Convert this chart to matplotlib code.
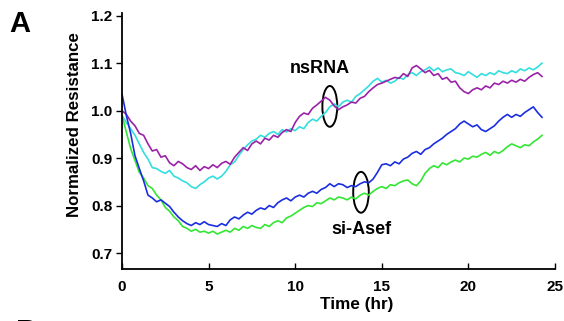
import numpy as np
import matplotlib
matplotlib.use("Agg")
import matplotlib.pyplot as plt
from matplotlib.patches import Ellipse

plt.rcParams['font.family'] = ['Liberation Sans', 'DejaVu Sans']

TIME_STEP = 0.25  # hours between samples

ns_magenta = [
    1.000, 0.992, 0.978, 0.968, 0.952, 0.948, 0.930, 0.915, 0.918, 0.902,
    0.905, 0.890, 0.884, 0.893, 0.888, 0.880, 0.876, 0.884, 0.874, 0.882,
    0.878, 0.886, 0.880, 0.889, 0.893, 0.887, 0.902, 0.912, 0.922, 0.916,
    0.930, 0.936, 0.930, 0.942, 0.938, 0.948, 0.944, 0.954, 0.960, 0.956,
    0.975, 0.988, 0.995, 0.992, 1.005, 1.012, 1.020, 1.028, 1.022, 1.010,
    1.002, 1.008, 1.012, 1.018, 1.016, 1.026, 1.030, 1.040, 1.048, 1.055,
    1.058, 1.062, 1.066, 1.070, 1.068, 1.078, 1.072, 1.090, 1.095, 1.088,
    1.080, 1.085, 1.074, 1.078, 1.066, 1.070, 1.060, 1.062, 1.048, 1.040,
    1.036, 1.044, 1.048, 1.044, 1.052, 1.048, 1.058, 1.055, 1.062, 1.058,
    1.064, 1.060, 1.066, 1.062, 1.070, 1.076, 1.080, 1.072,
]

ns_cyan = [
    0.990, 0.975, 0.962, 0.948, 0.930, 0.912, 0.898, 0.880, 0.878, 0.872,
    0.868, 0.874, 0.862, 0.858, 0.852, 0.848, 0.840, 0.836, 0.844, 0.850,
    0.858, 0.862, 0.856, 0.862, 0.872, 0.886, 0.892, 0.906, 0.918, 0.928,
    0.936, 0.940, 0.948, 0.944, 0.952, 0.956, 0.950, 0.960, 0.955, 0.962,
    0.958, 0.966, 0.962, 0.975, 0.982, 0.978, 0.988, 0.996, 1.008, 1.014,
    1.008, 1.018, 1.022, 1.018, 1.030, 1.036, 1.044, 1.052, 1.062, 1.068,
    1.060, 1.064, 1.058, 1.062, 1.070, 1.066, 1.076, 1.080, 1.074, 1.082,
    1.086, 1.092, 1.084, 1.090, 1.082, 1.086, 1.088, 1.080, 1.078, 1.074,
    1.082, 1.076, 1.070, 1.078, 1.074, 1.080, 1.076, 1.084, 1.080, 1.078,
    1.084, 1.080, 1.088, 1.084, 1.090, 1.086, 1.092, 1.100,
]

si_blue = [
    1.035, 0.990, 0.952, 0.905, 0.878, 0.852, 0.822, 0.816, 0.808, 0.812,
    0.805, 0.798, 0.786, 0.776, 0.768, 0.762, 0.758, 0.764, 0.760, 0.766,
    0.760, 0.758, 0.756, 0.762, 0.758, 0.770, 0.776, 0.772, 0.780, 0.786,
    0.782, 0.790, 0.795, 0.792, 0.800, 0.796, 0.806, 0.812, 0.816, 0.810,
    0.818, 0.822, 0.818, 0.826, 0.830, 0.826, 0.834, 0.838, 0.846, 0.840,
    0.846, 0.844, 0.838, 0.842, 0.840, 0.846, 0.850, 0.848, 0.856, 0.870,
    0.886, 0.888, 0.884, 0.892, 0.888, 0.898, 0.902, 0.910, 0.914, 0.908,
    0.918, 0.922, 0.930, 0.936, 0.942, 0.950, 0.956, 0.962, 0.972, 0.978,
    0.972, 0.966, 0.970, 0.960, 0.956, 0.962, 0.968, 0.978, 0.986, 0.992,
    0.986, 0.992, 0.988, 0.996, 1.002, 1.008, 0.996, 0.986,
]

si_green = [
    0.990, 0.955, 0.920, 0.895, 0.870, 0.858, 0.842, 0.836, 0.822, 0.812,
    0.796, 0.788, 0.776, 0.768, 0.756, 0.752, 0.746, 0.750, 0.744, 0.746,
    0.742, 0.746, 0.740, 0.744, 0.748, 0.744, 0.752, 0.748, 0.756, 0.752,
    0.758, 0.754, 0.752, 0.760, 0.756, 0.764, 0.768, 0.764, 0.774, 0.778,
    0.784, 0.790, 0.796, 0.800, 0.798, 0.806, 0.804, 0.810, 0.816, 0.812,
    0.818, 0.816, 0.812, 0.818, 0.814, 0.822, 0.826, 0.822, 0.830, 0.836,
    0.840, 0.836, 0.844, 0.842, 0.848, 0.852, 0.854, 0.846, 0.842, 0.852,
    0.868, 0.878, 0.884, 0.880, 0.890, 0.886, 0.892, 0.896, 0.892, 0.900,
    0.898, 0.904, 0.902, 0.908, 0.912, 0.906, 0.914, 0.910, 0.916, 0.924,
    0.930, 0.926, 0.922, 0.928, 0.926, 0.934, 0.940, 0.948,
]

x_ticks = [0, 5, 10, 15, 20, 25]
y_ticks = [0.7, 0.8, 0.9, 1.0, 1.1, 1.2]
y_tick_labels = ["0.7", "0.8", "0.9", "1.0", "1.1", "1.2"]

fig = plt.figure(figsize=(5.64, 3.21), dpi=100)
ax = fig.add_axes([0.2163, 0.162, 0.7677, 0.7975])

series = [
    (ns_cyan, "#33dede"),
    (ns_magenta, "#9a22a8"),
    (si_green, "#33e633"),
    (si_blue, "#1a2ee0"),
]
for vals, col in series:
    t = np.arange(len(vals)) * TIME_STEP
    ax.plot(t, vals, color=col, lw=1.2)

ax.set_xlim(0, 25)
ax.set_ylim(0.6664, 1.2057)
ax.set_xticks(x_ticks)
ax.set_xticklabels([str(v) for v in x_ticks])
ax.set_yticks(y_ticks)
ax.set_yticklabels(y_tick_labels)
for s in ["top", "right"]:
    ax.spines[s].set_visible(False)
for s in ["left", "bottom"]:
    ax.spines[s].set_linewidth(1.3)
ax.tick_params(axis='x', direction='in', length=4, width=1, pad=8,
               labelsize=11)
ax.tick_params(axis='y', direction='out', length=4, width=1, pad=3,
               labelsize=11)
for lab in ax.get_xticklabels() + ax.get_yticklabels():
    lab.set_fontweight('bold')

ax.set_xlabel("Time (hr)", fontsize=12.3, fontweight='bold')
ax.set_ylabel("Normalized Resistance", fontsize=12.2, fontweight='bold')
ax.xaxis.set_label_coords(0.543, -0.11)
ax.yaxis.set_label_coords(-0.093, 0.566)

ax.text(11.4, 1.089, "nsRNA", fontsize=13, fontweight='bold',
        ha='center', va='center')
ax.text(13.8, 0.750, "si-Asef", fontsize=13, fontweight='bold',
        ha='center', va='center')
ax.add_patch(Ellipse((12.0, 1.009), 0.86, 0.086, fill=False,
                     ec='black', lw=1.4))
ax.add_patch(Ellipse((13.8, 0.828), 0.9, 0.086, fill=False,
                     ec='black', lw=1.4))

fig.text(0.016, 0.925, "A", fontsize=21, fontweight='bold',
         ha='left', va='center')
fig.text(0.028, -0.035, "B", fontsize=21, fontweight='bold',
         ha='left', va='center')

fig.savefig("out.png", dpi=100)
